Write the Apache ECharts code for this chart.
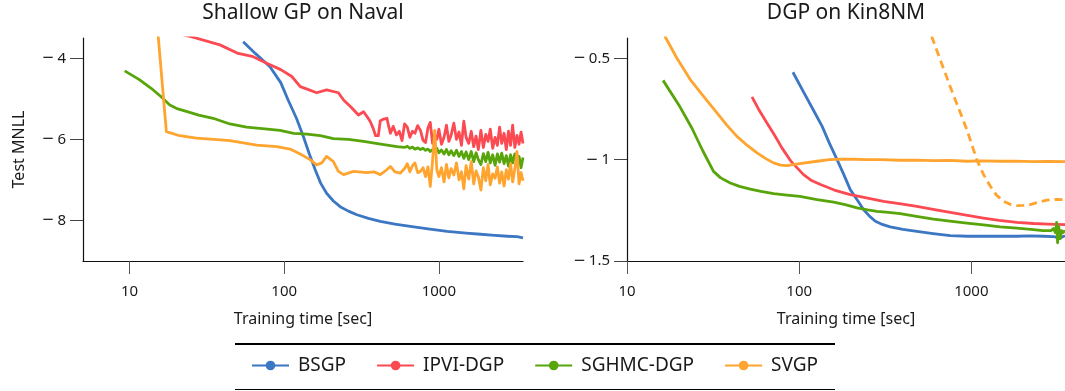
<!DOCTYPE html>
<html><head><meta charset="utf-8">
<script src="https://cdn.jsdelivr.net/npm/echarts@6/dist/echarts.min.js"></script>
<style>html,body{margin:0;padding:0;background:#fff}#main{width:1065px;height:391px}</style>
</head><body><div id="main"></div>
<script>
// ---------- tick labels ----------
const xTickValues = [10, 100, 1000];
const navalYTicks = [-8, -6, -4];
const kinYTicks = [-1.5, -1, -0.5];
const seriesNames = ['BSGP', 'IPVI-DGP', 'SGHMC-DGP', 'SVGP'];

// ---------- Shallow GP on Naval ----------
const navalTailTime = [600,625,650,675,700,730,760,790,820,850,880,910,940,970,1000,
  1040,1080,1120,1160,1200,1250,1300,1350,1400,1450,1500,1560,1620,1680,1740,1800,
  1870,1940,2010,2080,2150,2230,2310,2390,2470,2550,2640,2730,2820,2910,3000,
  3100,3200,3300,3400,3500];

const navalBsgpTime = [54.3,65,80.9,95,106,120,133,145,158.6,172,188,208,230,260,295,350,418,520,688,900,1133,1500,1862,2300,2775,3200,3500];
const navalBsgpMnll = [-3.59,-3.88,-4.21,-4.60,-5.03,-5.48,-5.93,-6.35,-6.75,-7.08,-7.33,-7.52,-7.66,-7.77,-7.86,-7.95,-8.02,-8.09,-8.16,-8.22,-8.27,-8.31,-8.34,-8.37,-8.39,-8.40,-8.43];

const navalIpviHeadTime = [20,25.7,38.4,50.4,63,77,95,112,127,145,162,188,224,242,270,302,326,345,360,376,390,406,418,440,462,475,486,507,532,555,578];
const navalIpviHeadMnll = [-3.38,-3.48,-3.67,-3.88,-3.96,-4.12,-4.28,-4.45,-4.70,-4.78,-4.85,-4.78,-4.85,-5.03,-5.20,-5.40,-5.32,-5.45,-5.56,-5.73,-5.91,-5.91,-5.54,-5.50,-5.48,-5.70,-5.85,-5.68,-5.89,-5.80,-6.03];
const navalIpviTailMnll = [-5.62,-5.70,-5.95,-5.80,-5.85,-5.66,-5.78,-6.02,-6.08,-5.72,-5.58,-6.10,-5.90,-6.00,-5.75,
  -6.12,-5.95,-5.65,-6.05,-5.90,-5.60,-6.00,-5.82,-6.15,-5.55,-5.95,-6.10,-5.80,-6.18,-5.92,-6.25,
  -5.78,-6.20,-5.88,-6.05,-5.75,-6.22,-5.95,-6.15,-5.70,-6.10,-5.85,-6.25,-5.80,-6.15,-5.65,
  -6.20,-5.90,-6.12,-5.82,-6.10];

const navalSghmcHeadTime = [9.3,11.5,13.8,16,18.2,20.5,23.3,28,34.7,44.5,57.1,75,94,115,140,171,208,260,326,420,537];
const navalSghmcHeadMnll = [-4.31,-4.52,-4.74,-4.95,-5.15,-5.25,-5.31,-5.40,-5.48,-5.62,-5.70,-5.74,-5.78,-5.85,-5.87,-5.91,-5.98,-6.00,-6.05,-6.12,-6.18];
const navalSghmcTailMnll = [-6.20,-6.17,-6.22,-6.19,-6.24,-6.21,-6.25,-6.22,-6.27,-6.24,-6.30,-6.25,-6.31,-6.22,-6.33,
  -6.26,-6.36,-6.25,-6.38,-6.28,-6.40,-6.27,-6.42,-6.30,-6.47,-6.31,-6.50,-6.30,-6.55,-6.33,-6.50,
  -6.62,-6.35,-6.55,-6.32,-6.58,-6.38,-6.64,-6.36,-6.56,-6.34,-6.60,-6.40,-6.66,-6.38,-6.58,
  -6.36,-6.62,-6.42,-6.70,-6.45];

const navalSvgpHeadTime = [15.2,17.3,21.1,27.1,35,44.5,66.4,89.4,109,127,147,162,175,188,208,224,242,281,343,380,418,450,486,520,564];
const navalSvgpHeadMnll = [-3.3,-5.81,-5.91,-5.97,-6.00,-6.03,-6.14,-6.18,-6.24,-6.36,-6.50,-6.63,-6.58,-6.42,-6.55,-6.79,-6.87,-6.79,-6.82,-6.80,-6.87,-6.78,-6.67,-6.80,-6.83];
const navalSvgpTailMnll = [-6.72,-6.60,-6.80,-6.65,-6.58,-6.82,-6.79,-6.70,-6.92,-6.68,-7.16,-6.55,-5.78,-6.75,-6.92,
  -6.70,-7.05,-6.62,-6.95,-6.72,-6.88,-6.58,-7.00,-6.80,-7.22,-6.65,-6.98,-6.55,-7.10,-6.78,-6.92,
  -7.25,-6.70,-7.02,-6.62,-7.12,-6.85,-6.96,-6.68,-7.08,-6.80,-7.15,-6.75,-6.98,-6.60,-7.05,
  -6.72,-6.30,-7.10,-6.82,-7.02];

// ---------- DGP on Kin8NM ----------
const kinBsgpTime = [92,105,120,136,150,166,182,198,218,237,257,277,300,338,400,483,600,754,950,1177,1500,1840,2200,2624,3000,3280,3500];
const kinBsgpMnll = [-0.569,-0.66,-0.75,-0.836,-0.92,-1.0,-1.075,-1.148,-1.2,-1.247,-1.28,-1.304,-1.318,-1.332,-1.344,-1.354,-1.365,-1.375,-1.378,-1.378,-1.378,-1.378,-1.376,-1.378,-1.38,-1.386,-1.375];

const kinIpviTime = [53.2,58,65,72,79.4,90,106,118,133,160,198,250,309,390,483,600,754,950,1177,1450,1840,2300,2800,3500];
const kinIpviMnll = [-0.69,-0.75,-0.819,-0.88,-0.942,-1.01,-1.074,-1.103,-1.123,-1.15,-1.173,-1.19,-1.206,-1.218,-1.23,-1.245,-1.26,-1.275,-1.288,-1.30,-1.309,-1.315,-1.318,-1.321];

const kinSghmcTime = [16.2,20,23.8,27.5,31.8,35,39.8,45,52,60,71,85,101,127,158.5,185,217,250,283,330,386,480,603,750,942,1177,1472,1840,2297,2600,2900,3000,3080,3130,3170,3220,3280,3340,3400,3500];
const kinSghmcMnll = [-0.609,-0.73,-0.844,-0.955,-1.058,-1.09,-1.115,-1.132,-1.145,-1.157,-1.168,-1.175,-1.181,-1.197,-1.21,-1.222,-1.238,-1.248,-1.255,-1.26,-1.266,-1.28,-1.293,-1.303,-1.313,-1.322,-1.332,-1.338,-1.345,-1.35,-1.35,-1.34,-1.36,-1.31,-1.41,-1.33,-1.39,-1.35,-1.36,-1.35];

const kinSvgpTime = [15.5,16.7,19.5,23.3,28,33.4,38,43.5,50,56.9,64,71,78,85,92,101,127,150,173,210,248,300,386,480,603,750,942,1150,1472,1800,2297,2800,3500];
const kinSvgpMnll = [-0.33,-0.395,-0.50,-0.605,-0.69,-0.77,-0.83,-0.885,-0.93,-0.967,-0.995,-1.016,-1.027,-1.03,-1.025,-1.02,-1.008,-1.0,-0.997,-0.998,-1.0,-1.0,-1.003,-1.002,-1.005,-1.004,-1.008,-1.006,-1.008,-1.007,-1.01,-1.009,-1.01];

const kinSvgpDashTime = [560,590,754,942,1076,1180,1287,1400,1539,1700,1840,2000,2199,2450,2748,3100,3500];
const kinSvgpDashMnll = [-0.33,-0.395,-0.64,-0.852,-1.0,-1.075,-1.13,-1.175,-1.206,-1.222,-1.227,-1.226,-1.222,-1.21,-1.20,-1.196,-1.198];

// ---------- build ----------
const colors = {'BSGP':'#3b77c3','IPVI-DGP':'#fc4a53','SGHMC-DGP':'#58a50b','SVGP':'#fea42f'};
const FONT = 'Noto Sans';
const zip = (xs, ys) => xs.map((x, i) => [x, ys[i]]);
const minusLabel = v => (v < 0 ? '{m|\u2212}{n|' + String(-v) + '}' : '{n|' + String(v) + '}');

function mk(name, gi, data, dashed) {
  return {
    type: 'line', name: name, xAxisIndex: gi, yAxisIndex: gi, data: data,
    symbol: 'circle', symbolSize: 10, showSymbol: false, clip: true,
    lineStyle: {color: colors[name], width: 2.8, type: dashed ? [8, 5] : 'solid', join: 'round'},
    itemStyle: {color: colors[name]},
    emphasis: {disabled: true}, silent: true
  };
}

function xAxisCfg(gi, min, max) {
  return {
    type: 'log', logBase: 10, gridIndex: gi, min: min, max: max,
    axisLine: {show: true, lineStyle: {color: '#111', width: 1.2}},
    axisTick: {show: true, length: 13, customValues: xTickValues, lineStyle: {color: '#555', width: 1}},
    axisLabel: {customValues: xTickValues, margin: 23, fontSize: 15, color: '#1a1a1a', fontFamily: FONT,
      formatter: v => String(Math.round(v))},
    splitLine: {show: false}, minorTick: {show: false},
    name: 'Training time [sec]', nameLocation: 'middle', nameGap: 50,
    nameTextStyle: {fontSize: 16, color: '#1a1a1a', fontFamily: FONT}
  };
}
function yAxisCfg(gi, min, max, ticks, name) {
  return {
    type: 'value', gridIndex: gi, min: min, max: max,
    axisLine: {show: true, lineStyle: {color: '#111', width: 1.2}},
    axisTick: {show: true, length: 13, customValues: ticks, lineStyle: {color: '#444', width: 1}},
    axisLabel: {customValues: ticks, margin: 17, fontSize: 15, color: '#1a1a1a', fontFamily: FONT, formatter: minusLabel,
      rich: {
        m: {fontFamily: 'DejaVu Sans', fontSize: 15, color: '#1a1a1a', padding: [0, 3, 0, 0]},
        n: {fontFamily: FONT, fontSize: 15, color: '#1a1a1a'}
      }},
    splitLine: {show: false},
    name: name, nameLocation: 'middle', nameGap: 56,
    nameTextStyle: {fontSize: 16, color: '#1a1a1a', fontFamily: FONT}
  };
}

const option = {
  animation: false,
  backgroundColor: '#fff',
  textStyle: {fontFamily: FONT},
  title: [
    {text: 'Shallow GP on Naval', left: 303, top: 3, textAlign: 'center', padding: 0,
     textStyle: {fontSize: 21, fontWeight: 'normal', color: '#1a1a1a', fontFamily: FONT}},
    {text: 'DGP on Kin8NM', left: 846, top: 3, textAlign: 'center', padding: 0,
     textStyle: {fontSize: 21, fontWeight: 'normal', color: '#1a1a1a', fontFamily: FONT}}
  ],
  grid: [
    {left: 83, top: 38, width: 440, height: 223, containLabel: false},
    {left: 627, top: 38, width: 438, height: 223, containLabel: false}
  ],
  xAxis: [xAxisCfg(0, 5, 3500), xAxisCfg(1, 10, 3500)],
  yAxis: [yAxisCfg(0, -9, -3.5, navalYTicks, 'Test MNLL'), yAxisCfg(1, -1.5, -0.4, kinYTicks, '')],
  legend: {
    data: seriesNames, left: 251, top: 356, padding: 0,
    itemWidth: 37, itemHeight: 12, itemGap: 30,
    textStyle: {fontSize: 19, color: '#1a1a1a', fontFamily: FONT, padding: [0, 0, 0, 4]}
  },
  graphic: [
    {type: 'line', shape: {x1: 235, y1: 344, x2: 835, y2: 344}, style: {stroke: '#000', lineWidth: 2.2}, silent: true},
    {type: 'line', shape: {x1: 235, y1: 389.5, x2: 835, y2: 389.5}, style: {stroke: '#000', lineWidth: 1}, silent: true}
  ],
  series: [
    mk('BSGP', 0, zip(navalBsgpTime, navalBsgpMnll)),
    mk('IPVI-DGP', 0, zip(navalIpviHeadTime.concat(navalTailTime), navalIpviHeadMnll.concat(navalIpviTailMnll))),
    mk('SGHMC-DGP', 0, zip(navalSghmcHeadTime.concat(navalTailTime), navalSghmcHeadMnll.concat(navalSghmcTailMnll))),
    mk('SVGP', 0, zip(navalSvgpHeadTime.concat(navalTailTime), navalSvgpHeadMnll.concat(navalSvgpTailMnll))),
    mk('BSGP', 1, zip(kinBsgpTime, kinBsgpMnll)),
    mk('IPVI-DGP', 1, zip(kinIpviTime, kinIpviMnll)),
    mk('SGHMC-DGP', 1, zip(kinSghmcTime, kinSghmcMnll)),
    mk('SVGP', 1, zip(kinSvgpTime, kinSvgpMnll)),
    mk('SVGP', 1, zip(kinSvgpDashTime, kinSvgpDashMnll), true)
  ]
};
const chart = echarts.init(document.getElementById('main'), null, {renderer: 'canvas'});
chart.setOption(option);
</script></body></html>
